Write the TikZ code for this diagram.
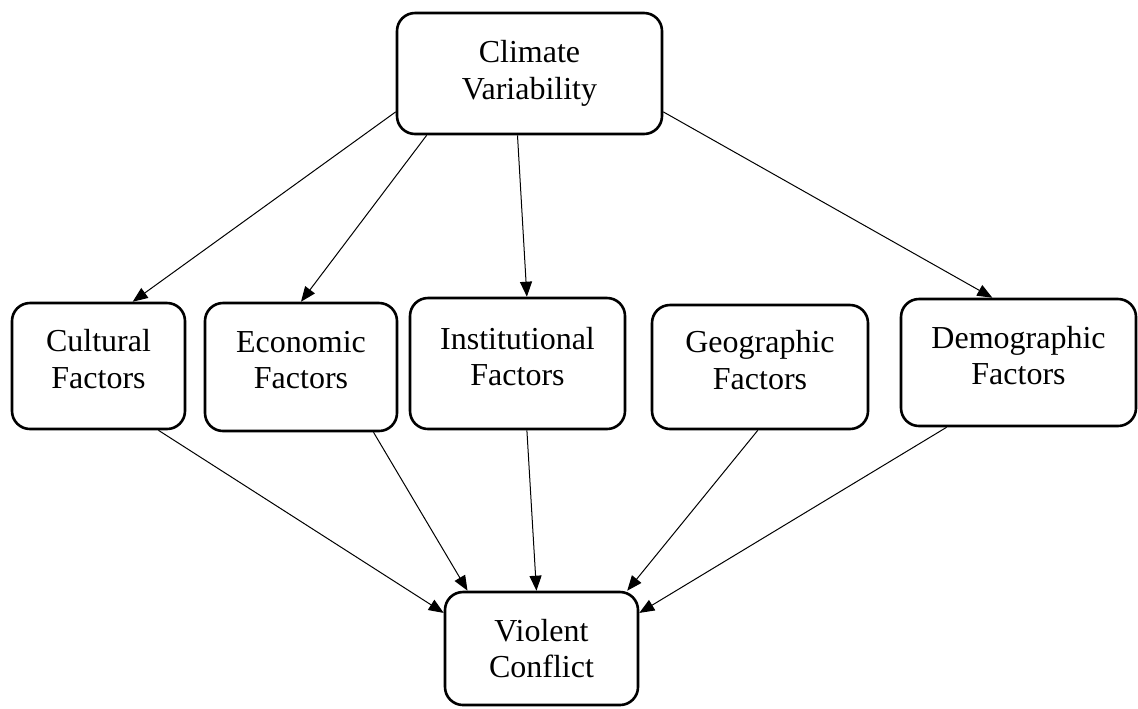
\documentclass[tikz,border=0pt]{standalone}
\usepackage{fontspec}
\setmainfont{Liberation Serif}
\usetikzlibrary{arrows.meta}

\tikzset{
	caixa/.style={draw, line width=1.3pt, rounded corners=9pt, align=center, inner sep=0pt,
		font=\fontsize{16}{18.25}\selectfont},
	fator/.style={caixa, text depth=7pt},
	seta/.style={-{Triangle[length=7.5pt, width=6pt]}, line width=0.5pt}
}

\begin{document}
\begin{tikzpicture}[x=0.5pt, y=-0.5pt]

\useasboundingbox (0,0) rectangle (1138,708);

% Causa
\node[caixa, minimum width=132.5pt, minimum height=60.5pt] (CV) at (529.5,73.5) {Climate\\Variability};

% Fatores
\node[fator, minimum width=86.5pt, minimum height=63pt] (CF) at (98.5,366) {Cultural\\Factors};
\node[fator, minimum width=96pt, minimum height=64pt] (EF) at (301,367) {Economic\\Factors};
\node[fator, minimum width=107.5pt, minimum height=65.5pt] (IF) at (517.5,363.5) {Institutional\\Factors};
\node[fator, minimum width=108pt, minimum height=62pt] (GF) at (760,367) {Geographic\\Factors};
\node[fator, minimum width=117.5pt, minimum height=63.5pt] (DF) at (1018.5,362.5) {Demographic\\Factors};

% Efeito
\node[caixa, minimum width=96.5pt, minimum height=56.5pt] (VC) at (541.5,648.5) {Violent\\Conflict};

% Setas superiores
\draw[seta] (CV.196) -- (CF.62);
\draw[seta] (CV.211) -- (EF.north);
\draw[seta] (CV.259) -- (IF.82);
\draw[seta] (CV.344) -- (DF.112);

% Setas inferiores
\draw[seta] (CF.313) -- (VC.160);
\draw[seta] (EF.318) -- (VC.142);
\draw[seta] (IF.278) -- (VC.95);
\draw[seta] (GF.268) -- (VC.34);
\draw[seta] (DF.222) -- (VC.20);
\end{tikzpicture}
\end{document}
